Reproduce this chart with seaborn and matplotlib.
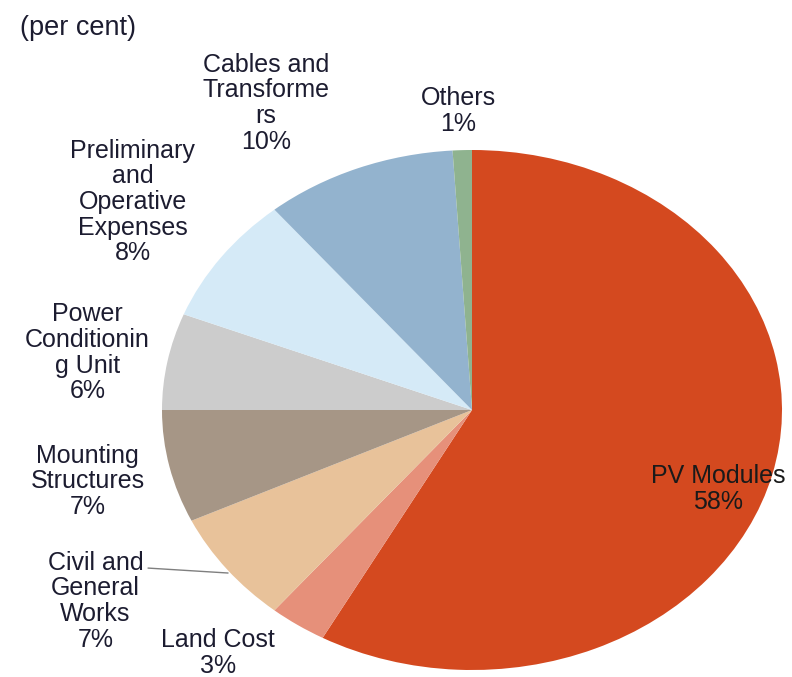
import matplotlib
matplotlib.use("Agg")
import matplotlib.pyplot as plt
import seaborn as sns

# Cost components of a solar PV plant (per cent), clockwise from 12 o'clock
components = ["PV Modules", "Land Cost", "Civil and\nGeneral\nWorks", "Mounting\nStructures",
              "Power\nConditionin\ng Unit", "Preliminary\nand\nOperative\nExpenses",
              "Cables and\nTransforme\nrs", "Others"]
shares = [58, 3, 7, 7, 6, 8, 10, 1]
colors = ["#D4491F", "#E6907A", "#E8C29A", "#A69686",
          "#CCCCCC", "#D5EAF7", "#93B3CE", "#8FB38F"]

# label anchor points in data units (pie radius = 1)
label_xy = [(0.795, -0.305), (-0.82, -0.935), (-1.215, -0.735), (-1.24, -0.275),
            (-1.24, 0.22), (-1.095, 0.80), (-0.665, 1.18), (-0.045, 1.15)]

sns.set_theme(style="white")
plt.rcParams["font.family"] = ["Liberation Sans", "DejaVu Sans"]

fig = plt.figure(figsize=(7.92, 6.77), dpi=100)
ax = fig.add_axes([162 / 792, 7 / 677, 620 / 792, 520 / 677])

ax.pie(shares, colors=colors, startangle=90, counterclock=False,
       radius=1, wedgeprops=dict(linewidth=0))
ax.set_aspect("auto")
ax.set_xlim(-1, 1)
ax.set_ylim(-1, 1)
ax.axis("off")

text_color = "#1c1c30"
for i, (name, val) in enumerate(zip(components, shares)):
    x, y = label_xy[i]
    ax.text(x, y, f"{name}\n{val}%", ha="center", va="center",
            fontsize=18, linespacing=1.09,
            color="#1a1a1a" if i == 0 else text_color, clip_on=False)

# leader line for the civil works label
ax.plot([-1.045, -0.787], [-0.608, -0.627], color="#7f7f7f", lw=1.0, clip_on=False)

fig.text(20 / 792, 1 - 28 / 677, "(per cent)", ha="left", va="center",
         fontsize=19.5, color=text_color)

fig.savefig("out.png", dpi=100)
